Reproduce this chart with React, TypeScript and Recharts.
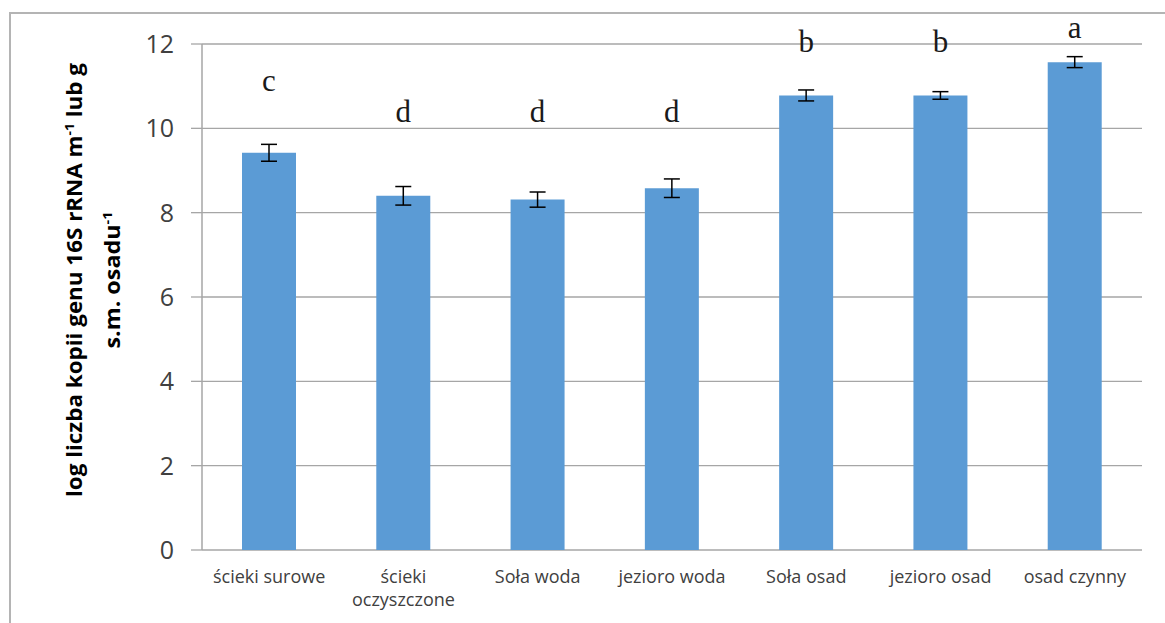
import React from 'react';
import {
  ComposedChart,
  Bar,
  ErrorBar,
  LabelList,
  XAxis,
  YAxis,
  CartesianGrid,
} from 'recharts';

const categories = [
  'ścieki surowe',
  'ścieki\noczyszczone',
  'Soła woda',
  'jezioro woda',
  'Soła osad',
  'jezioro osad',
  'osad czynny',
];
const values = [9.42, 8.4, 8.31, 8.58, 10.78, 10.78, 11.57];
const errors = [0.2, 0.22, 0.18, 0.22, 0.13, 0.09, 0.13];
const letters = ['c', 'd', 'd', 'd', 'b', 'b', 'a'];
const letterPos = [11.14, 10.41, 10.41, 10.41, 12.05, 12.05, 12.38];
const yTicks = [0, 2, 4, 6, 8, 10, 12];
const edgeTicks = [0, 1, 2, 3, 4, 5, 6, 7];

const data = categories.map((name, i) => ({
  name,
  value: values[i],
  err: errors[i],
  letter: letters[i],
  letterPos: letterPos[i],
}));

const GRID = '#a6a6a6';
const TEXT = '#404040';

const CategoryTick = (props: any) => {
  const { x, y, payload } = props;
  const lines = String(payload.value).split('\n');
  return (
    <text x={x} y={y} textAnchor="middle" fill={TEXT} fontFamily="'Open Sans', sans-serif" fontSize={18}>
      {lines.map((l, i) => (
        <tspan key={i} x={x} dy={i === 0 ? 24 : 23}>{l}</tspan>
      ))}
    </text>
  );
};

// letters sit at their own value, converted with the bar's own pixels per unit
const LetterLabel = (props: any) => {
  const { x, y, width, height, index } = props;
  const d = data[index];
  const perUnit = height / d.value;
  const base = y + height;
  return (
    <text
      x={x + width / 2}
      y={base - d.letterPos * perUnit}
      textAnchor="middle"
      dominantBaseline="central"
      fontFamily="'Liberation Serif', serif"
      fontSize={31}
      fill="#1a1a1a"
    >
      {d.letter}
    </text>
  );
};

const AxisTitle = () => (
  <g transform="translate(0,280) rotate(-90)">
    <text
      x={0}
      y={82}
      textAnchor="middle"
      textLength={434}
      lengthAdjust="spacingAndGlyphs"
      fontFamily="'Open Sans', sans-serif"
      fontWeight="bold"
      fontSize={21}
      fill="#000"
    >
      log liczba kopii genu 16S rRNA m
      <tspan dy={-8} fontSize={13}>-1</tspan>
      <tspan dy={8}> lub g</tspan>
    </text>
    <text
      x={0}
      y={120}
      textAnchor="middle"
      textLength={137}
      lengthAdjust="spacingAndGlyphs"
      fontFamily="'Open Sans', sans-serif"
      fontWeight="bold"
      fontSize={21}
      fill="#000"
    >
      s.m. osadu
      <tspan dy={-8} fontSize={13}>-1</tspan>
    </text>
  </g>
);

export default function App() {
  return (
    <div style={{ position: 'absolute', left: 0, top: 0, width: 1165, height: 623, overflow: 'hidden', background: '#fff' }}>
      <div style={{ position: 'absolute', left: 9, top: 12, width: 1300, height: 800, border: '2px solid #b4b4b4' }} />
      <div style={{ position: 'absolute', left: 0, top: 0 }}>
        <ComposedChart
          width={1165}
          height={623}
          data={data}
          margin={{ top: 44, right: 23, bottom: 0, left: 0 }}
        >
          <CartesianGrid vertical={false} stroke={GRID} strokeWidth={1.3} />
          <XAxis
            xAxisId="edge"
            type="number"
            dataKey={() => 0}
            domain={[0, 7]}
            ticks={edgeTicks}
            tick={false}
            tickSize={7}
            height={0}
            axisLine={{ stroke: GRID, strokeWidth: 1.5 }}
            tickLine={{ stroke: GRID, strokeWidth: 1.5 }}
          />
          <XAxis
            xAxisId="cat"
            dataKey="name"
            type="category"
            axisLine={false}
            tickLine={false}
            tickSize={0}
            tickMargin={9}
            height={73}
            interval={0}
            tick={<CategoryTick />}
          />
          <YAxis
            domain={[0, 12]}
            ticks={yTicks}
            width={202}
            tickSize={11}
            tickMargin={17}
            axisLine={{ stroke: GRID, strokeWidth: 1.5 }}
            tickLine={{ stroke: GRID, strokeWidth: 1.3 }}
            tick={{ fill: TEXT, fontSize: 25, fontFamily: "'Open Sans', sans-serif" }}
            label={<AxisTitle />}
          />
          <Bar xAxisId="cat" dataKey="value" fill="#5b9bd5" barSize={54} isAnimationActive={false}>
            <ErrorBar dataKey="err" width={8} stroke="#000" strokeWidth={1.5} direction="y" />
            <LabelList dataKey="letter" content={<LetterLabel />} />
          </Bar>
        </ComposedChart>
      </div>
    </div>
  );
}
